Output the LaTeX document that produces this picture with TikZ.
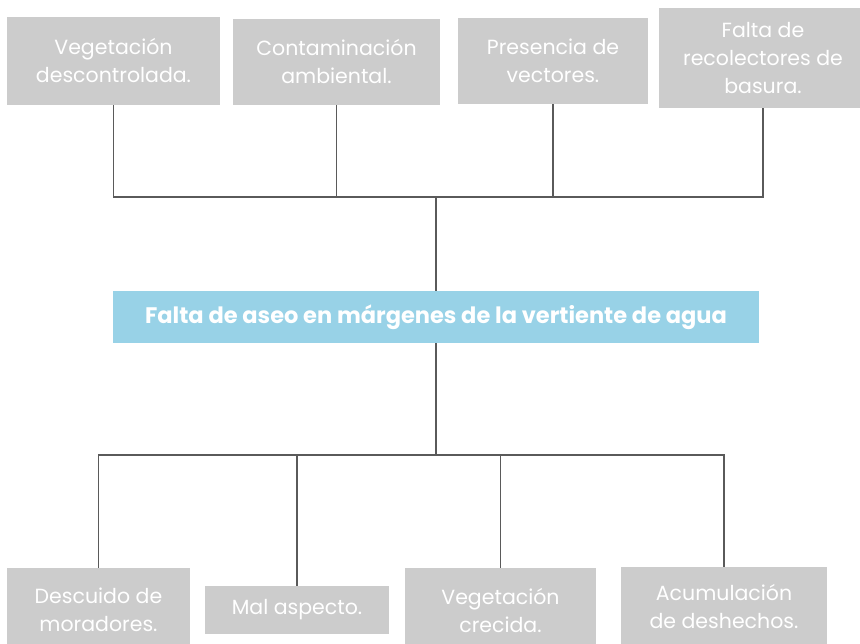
\documentclass[tikz,border=0pt]{standalone}
\usepackage{fontspec}
\setmainfont{Poppins}
\definecolor{boxgray}{RGB}{204,204,204}
\definecolor{boxblue}{RGB}{152,210,231}
\definecolor{linegray}{RGB}{90,90,90}
\begin{document}
\begin{tikzpicture}[x=1pt,y=-1pt,
  graybox/.style={fill=boxgray,draw=none,inner sep=0pt,align=center,text=white,
    font=\fontsize{20.5}{28}\selectfont},
  bluebox/.style={fill=boxblue,draw=none,inner sep=0pt,align=center,text=white,
    font=\fontsize{22.5}{26}\selectfont\bfseries},
  conn/.style={draw=linegray,line width=1.5pt}]
\useasboundingbox (0,0) rectangle (860,643);
\clip (0,0) rectangle (860,643);
\fill[white] (0,0) rectangle (860,643);
% top causes
\node[graybox,minimum width=213pt,minimum height=88pt] (t1) at (113.5,61) {Vegetación\\descontrolada.};
\node[graybox,minimum width=207pt,minimum height=86pt] (t2) at (336.5,62) {Contaminación\\ambiental.};
\node[graybox,minimum width=190pt,minimum height=86pt] (t3) at (553,61) {Presencia de\\vectores.};
\node[graybox,minimum width=208pt,minimum height=100pt] (t4) at (763,58) {Falta de\\recolectores de\\basura.};
% central problem
\node[bluebox,minimum width=646pt,minimum height=52pt] (c) at (436,317) {Falta de aseo en márgenes de la vertiente de agua};
% bottom effects
\node[graybox,minimum width=183pt,minimum height=84pt] (b1) at (98.5,610) {Descuido de\\moradores.};
\node[graybox,minimum width=184pt,minimum height=48pt] (b2) at (297,610) {Mal aspecto.};
\node[graybox,minimum width=191pt,minimum height=84pt] (b3) at (500.5,610) {Vegetación\\crecida.};
\node[graybox,minimum width=206pt,minimum height=78pt] (b4) at (724,606) {Acumulación\\de deshechos.};
% connectors
\coordinate (jt) at (436,197);
\coordinate (jb) at (436,455);
\draw[conn] (t1.south) |- (jt) -| (t4.south);
\draw[conn] (t2.south) -- (t2.south |- jt);
\draw[conn] (t3.south) -- (t3.south |- jt);
\draw[conn] (jt) -- (c.north);
\draw[conn] (c.south) -- (jb);
\draw[conn] (b1.north) |- (jb) -| (b4.north);
\draw[conn] (b2.north) -- (b2.north |- jb);
\draw[conn] (b3.north) -- (b3.north |- jb);
\end{tikzpicture}
\end{document}
